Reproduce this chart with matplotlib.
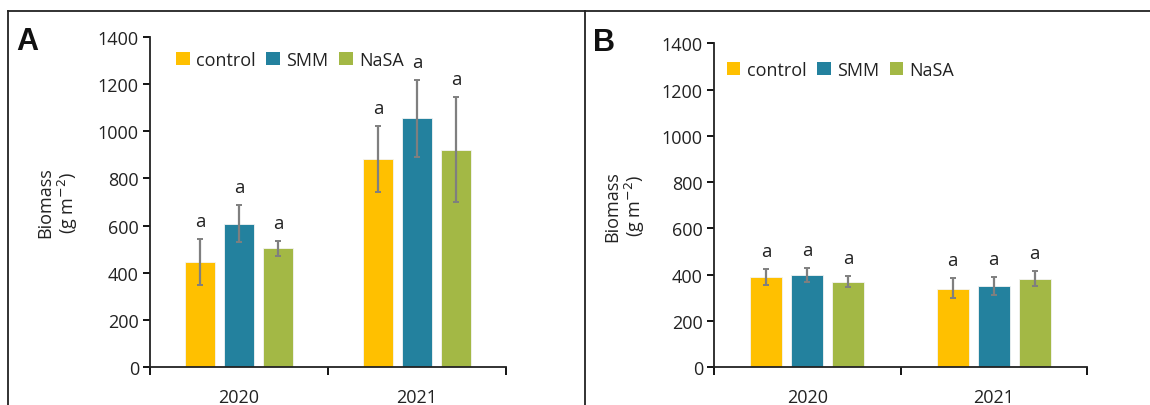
import matplotlib
matplotlib.use("Agg")
import matplotlib.pyplot as plt
import numpy as np
from matplotlib.lines import Line2D
from matplotlib.patches import Patch

plt.rcParams['font.family'] = ['Open Sans', 'DejaVu Sans']

years = ['2020', '2021']
treatments = ['control', 'SMM', 'NaSA']
colors = ['#FFC000', '#23819E', '#A3B845']

# panel A: biomass (g m-2), mean and error (upper, lower ends)
a_mean = [[444, 881], [607, 1055], [504, 921]]
a_hi = [[543, 1024], [687, 1219], [536, 1144]]
a_lo = [[348, 741], [532, 892], [472, 701]]

# panel B
b_mean = [[389, 338], [398, 351], [367, 383]]
b_hi = [[425, 385], [429, 392], [393, 417]]
b_lo = [[357, 298], [370, 312], [346, 350]]

letters = ['a', 'a', 'a']

fig = plt.figure(figsize=(11.5, 4.06), dpi=100)
axA = fig.add_axes([150/1150, 1-368/406, 356/1150, 330/406])
axB = fig.add_axes([714/1150, 1-368.3/406, 373/1150, 324/406])

def panel(ax, mean, hi, lo, leg_xy, lab_x):
    xc = np.arange(len(years)) + 0.5
    w = 0.172
    for i, t in enumerate(treatments):
        x = xc + (i-1)*0.22
        m = np.array(mean[i]); h = np.array(hi[i]); l = np.array(lo[i])
        ax.bar(x, m, w, color=colors[i], edgecolor='#f4f4f4', linewidth=0.6,
               label=t, zorder=2)
        ax.errorbar(x, m, yerr=[m-l, h-m], fmt='none', ecolor='#7F7F7F',
                    elinewidth=1.6, capsize=2, capthick=1.4, zorder=3)
        for xx, hh in zip(x, h):
            ax.annotate(letters[i], (xx, hh), xytext=(0, 6.5), textcoords='offset points',
                        ha='center', va='bottom', fontsize=13.5, color='#222222')
    ax.set_xlim(0, 2)
    ax.set_ylim(0, 1400)
    ax.set_yticks(np.arange(0, 1401, 200))
    ax.set_xticks([0, 1, 2])
    ax.set_xticklabels([])
    ax.set_xticks(xc, minor=True)
    ax.set_xticklabels(years, minor=True)
    ax.tick_params(axis='x', which='major', length=6, width=1.3, direction='out')
    ax.tick_params(axis='x', which='minor', length=0, pad=15, labelsize=13, labelcolor='#222222')
    ax.tick_params(axis='y', length=5, width=1.3, labelsize=13, pad=3, labelcolor='#222222')
    for s in ['top', 'right']:
        ax.spines[s].set_visible(False)
    for s in ['left', 'bottom']:
        ax.spines[s].set_linewidth(1.3)
        ax.spines[s].set_color('#222222')
    ax.set_ylabel('Biomass\n(g m$^{-2}$)', fontsize=13, linespacing=1.1, color='#222222')
    ax.yaxis.set_label_coords(lab_x, 0.5)
    handles = [Patch(facecolor=c, edgecolor='none') for c in colors]
    ax.legend(handles, treatments, loc='center left', bbox_to_anchor=leg_xy,
              ncol=3, frameon=False, fontsize=13, handlelength=0.75, handleheight=0.75,
              handletextpad=0.35, columnspacing=0.6, borderaxespad=0, borderpad=0,
              labelcolor='#222222')

panel(axA, a_mean, a_hi, a_lo, (0.073, 0.93), -0.197)
panel(axB, b_mean, b_hi, b_lo, (0.034, 0.918), -0.18)

fig.text(16/1150, 1-27/406, 'A', fontsize=22, fontweight='bold', va='top', ha='left',
         family='Liberation Sans', color='#111111')
fig.text(593/1150, 1-28/406, 'B', fontsize=22, fontweight='bold', va='top', ha='left',
         family='Liberation Sans', color='#111111')

# panel frame lines
fig.add_artist(Line2D([8/1150, 1], [1-12/406, 1-12/406], color='#222222', lw=1.3))
fig.add_artist(Line2D([8/1150, 8/1150], [0, 1-12/406], color='#222222', lw=1.3))
fig.add_artist(Line2D([585/1150, 585/1150], [0, 1-12/406], color='#222222', lw=1.3))

fig.savefig('out.png', dpi=100)
